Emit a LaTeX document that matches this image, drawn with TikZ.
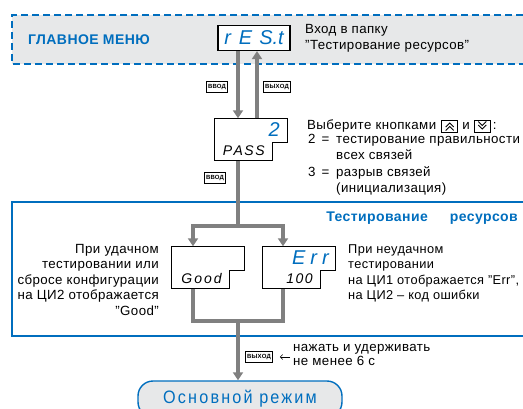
\documentclass[tikz,border=0pt]{standalone}
\usepackage{fontspec}
\setmainfont{Liberation Sans}[LetterSpace=3]
\newfontfamily\segfont{Liberation Sans}
\newfontfamily\spacedfont{Liberation Sans}[LetterSpace=12, FakeStretch=0.9]
\usetikzlibrary{arrows.meta, calc, positioning}

\definecolor{owenblue}{RGB}{0,110,190}
\definecolor{panelgray}{RGB}{231,232,233}
\definecolor{flowgray}{RGB}{128,128,128}

\tikzset{
  flow/.style={draw=flowgray, line width=3.6pt},
  flowarrow/.style={flow, -{Triangle[width=10pt,length=8pt]}},
  display/.style={draw, line width=1.2pt, fill=white, minimum width=72pt, minimum height=25pt, inner sep=0pt},
  stepdisp/.style={minimum width=72pt, minimum height=42pt, inner sep=0pt},
  keybox/.style={draw, line width=1pt, fill=white, inner sep=1.5pt, minimum height=11pt,
    font=\fontsize{6}{6}\selectfont\bfseries},
  btn/.style={draw, line width=0.7pt, minimum width=16pt, minimum height=12pt, inner sep=0pt},
  segblue/.style={text=owenblue, font=\segfont\itshape\fontsize{20}{20}\selectfont},
  segblack/.style={font=\segfont\itshape\fontsize{14}{14}\selectfont},
  note/.style={font=\fontsize{13.3}{16.5}\selectfont, inner sep=0pt},
  heading/.style={text=owenblue, font=\bfseries\fontsize{14}{14}\selectfont, inner sep=0pt},
}

% display with a step in its lower right corner
\newcommand{\stepframe}[1]{%
  \draw[line width=1.2pt, fill=white] (#1.north west) -- (#1.north east) -- ([yshift=-3pt]#1.east)
    -- ++(-15,0) |- (#1.south west) -- cycle;}

\begin{document}
\begin{tikzpicture}[x=1pt, y=-1pt]
  \useasboundingbox (0,0) rectangle (523,408);

  % main menu band
  \fill[panelgray] (12,15) rectangle (523,64);
  \draw[owenblue, line width=1.6pt, dash pattern=on 7pt off 4pt] (523,15) -- (12,15) -- (12,64) -- (523,64);
  \node[heading, anchor=west] (menu) at (28,40) {ГЛАВНОЕ МЕНЮ};
  \node[display, segblue] (rest) at (254,38) {r\hspace{8pt}E\hspace{7pt}S.t};
  \node[note, anchor=north west, align=left] (restnote) at (305,24) {Вход в папку\\"Тестирование ресурсов"};

  % resource test frame
  \draw[owenblue, line width=1.6pt] (523,202) -- (12,202) -- (12,336) -- (523,336);
  \node[heading, anchor=east] (testtitle) at (518,218) {Тестирование\hspace{22pt}ресурсов};

  % password display
  \node[stepdisp] (pass) at (251,139.5) {};
  \stepframe{pass}
  \node[segblue, anchor=north east] (passval) at ([xshift=-4pt,yshift=-1pt]pass.north east) {2};
  \node[segblack, anchor=south east] (passname) at ([xshift=-19pt,yshift=2pt]pass.south east)
    {P\hspace{1.5pt}A\hspace{1.5pt}S\hspace{1.5pt}S};

  % result displays
  \node[stepdisp] (good) at (208,267.5) {};
  \stepframe{good}
  \node[segblack, anchor=south east] (goodname) at ([xshift=-19pt,yshift=2pt]good.south east)
    {G\hspace{2pt}o\hspace{2pt}o\hspace{2pt}d};
  \node[stepdisp] (err) at (299,267.5) {};
  \stepframe{err}
  \node[segblue, anchor=north east] (errname) at ([xshift=-3pt,yshift=-1pt]err.north east)
    {E\hspace{5pt}r\hspace{5pt}r};
  \node[segblack, anchor=south east] (errcode) at ([xshift=-19pt,yshift=2pt]err.south east)
    {1\hspace{1.5pt}0\hspace{1.5pt}0};

  % keys
  \node[keybox] (enter1) at (217,87) {ВВОД};
  \node[keybox] (exit1) at (277,87) {ВЫХОД};
  \node[keybox] (enter2) at (215,178) {ВВОД};
  \node[keybox] (exit2) at (259,357) {ВЫХОД};

  % flow lines
  \draw[flowarrow] ([xshift=-16pt]rest.south) -- ([xshift=-13pt]pass.north);
  \draw[flowarrow] ([xshift=6pt]pass.north) -- ([xshift=3pt]rest.south);
  \coordinate (split) at (238,226);
  \coordinate (merge) at (238,321);
  \draw[flow] ([xshift=-13pt]pass.south) -- (split);
  \draw[flowarrow] (split) -| ([xshift=-15pt]good.north);
  \draw[flowarrow] (split) -| ([xshift=-16pt]err.north);
  \draw[flow] ([xshift=-15pt]good.south) |- (merge) -| ([xshift=-16pt]err.south);

  % main mode
  \node[draw=owenblue, line width=1.4pt, fill=panelgray, rounded corners=15pt, minimum width=204pt,
    minimum height=36pt, text=owenblue, font=\spacedfont\fontsize{18}{18}\selectfont] (mode) at (240,399)
    {\raisebox{4pt}{Основной режим}};
  \draw[flowarrow] (merge) -- (merge |- mode.north);

  % password notes
  \node[note, anchor=west] (choose) at (307,126) {Выберите кнопками};
  \node[btn, right=5pt of choose] (up) {};
  \node[note, right=4pt of up] (and) {и};
  \node[btn, right=4pt of and] (down) {};
  \node[note, right=2pt of down] (colon) {:};
  \draw[line width=0.9pt] ($(up.center)+(-4,1)$) -- ++(4,-4) -- ++(4,4);
  \draw[line width=0.9pt] ($(up.center)+(-4,4.5)$) -- ++(4,-4) -- ++(4,4);
  \draw[line width=0.9pt] ($(down.center)+(-4,-1)$) -- ++(4,4) -- ++(4,-4);
  \draw[line width=0.9pt] ($(down.center)+(-4,-4.5)$) -- ++(4,4) -- ++(4,-4);
  \node[note, anchor=north west, align=left] (options) at (308,134)
    {\makebox[28pt][l]{2\hspace{6pt}=}тестирование правильности\\
     \hspace*{28pt}всех связей\\
     \makebox[28pt][l]{3\hspace{6pt}=}разрыв связей\\
     \hspace*{28pt}(инициализация)};

  % result notes
  \node[note, anchor=north east, align=right, font=\fontsize{13.3}{15.5}\selectfont] (goodnote) at (159,244)
    {При удачном\\тестировании или\\сбросе конфигурации\\на ЦИ2 отображается\\"Good"};
  \node[note, anchor=north west, align=left, font=\fontsize{12.8}{15.5}\selectfont] (errnote) at (348,244)
    {При неудачном\\тестировании\\на ЦИ1 отображается "Err",\\на ЦИ2 – код ошибки};

  % exit hint
  \node[note, anchor=north west, align=left, font=\fontsize{13.3}{14}\selectfont] (hold) at (293,344)
    {нажать и удерживать\\не менее 6 с};
  \draw[-{Straight Barb[length=2.5pt]}, line width=0.6pt, shorten <=3pt, shorten >=7pt]
    (hold.west |- exit2) -- (exit2.east);
\end{tikzpicture}
\end{document}
